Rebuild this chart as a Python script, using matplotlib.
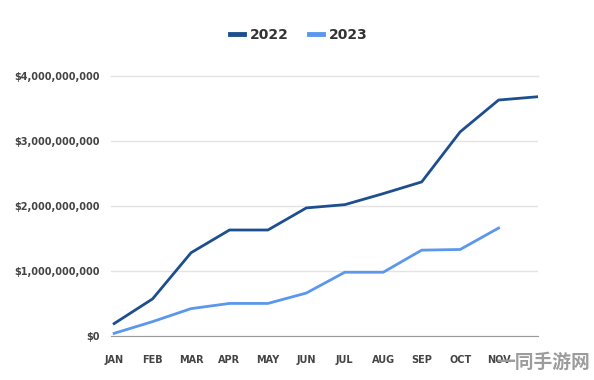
import matplotlib.pyplot as plt
from matplotlib.ticker import FuncFormatter

months = ['JAN', 'FEB', 'MAR', 'APR', 'MAY', 'JUN', 'JUL', 'AUG', 'SEP', 'OCT', 'NOV', 'DEC']
sales_2022 = [0.19, 0.57, 1.28, 1.63, 1.63, 1.97, 2.02, 2.19, 2.37, 3.14, 3.63, 3.68]
sales_2023 = [0.04, 0.22, 0.42, 0.50, 0.50, 0.66, 0.98, 0.98, 1.32, 1.33, 1.66]
y_ticks = [0, 1, 2, 3, 4]

dark_blue = '#1d4f8f'
light_blue = '#5b97ec'

fig = plt.figure(figsize=(5.94, 3.8), dpi=100)
ax = fig.add_axes([0.187, 0.116, 0.719, 0.684])

x = list(range(len(months)))
ax.plot(x, [v * 1e9 for v in sales_2022], color=dark_blue, lw=2, label='2022')
ax.plot(x[:len(sales_2023)], [v * 1e9 for v in sales_2023], color=light_blue, lw=2, label='2023')

ax.set_xlim(-0.08, 11.03)
ax.set_ylim(0, 4e9)
ax.set_yticks([t * 1e9 for t in y_ticks])
ax.yaxis.set_major_formatter(FuncFormatter(lambda v, p: '${:,.0f}'.format(v)))
ax.set_xticks(x)
ax.set_xticklabels(months)

ax.grid(axis='y', color='#e3e3e3', lw=1)
ax.set_axisbelow(True)
for s in ['top', 'right', 'left']:
    ax.spines[s].set_visible(False)
ax.spines['bottom'].set_color('#9a9a9a')
ax.tick_params(axis='both', length=0, labelsize=7, labelcolor='#444444')
ax.tick_params(axis='x', pad=14)
ax.tick_params(axis='y', pad=8)
for lbl in ax.get_xticklabels() + ax.get_yticklabels():
    lbl.set_fontweight('bold')
# the DEC label sits under the watermark in the original
ax.get_xticklabels()[-1].set_visible(False)
ax.yaxis.get_major_ticks()[-1].gridline.set_clip_on(False)

leg = fig.legend(loc='center', bbox_to_anchor=(0.503, 0.908), ncol=2, frameon=False,
                 prop={'size': 10, 'weight': 'bold'}, handlelength=1.0, handletextpad=0.4,
                 columnspacing=1.5)
for h in leg.get_lines():
    h.set_linewidth(3.5)
for t in leg.get_texts():
    t.set_color('#333333')

# watermark
fig.text(0.993, 0.046, '一同手游网', ha='right', va='center', fontsize=13.5, fontweight='bold',
         color='#9c9c9c', family=['Noto Sans CJK SC', 'DejaVu Sans'])

fig.savefig('out.png', dpi=100, facecolor='white')
